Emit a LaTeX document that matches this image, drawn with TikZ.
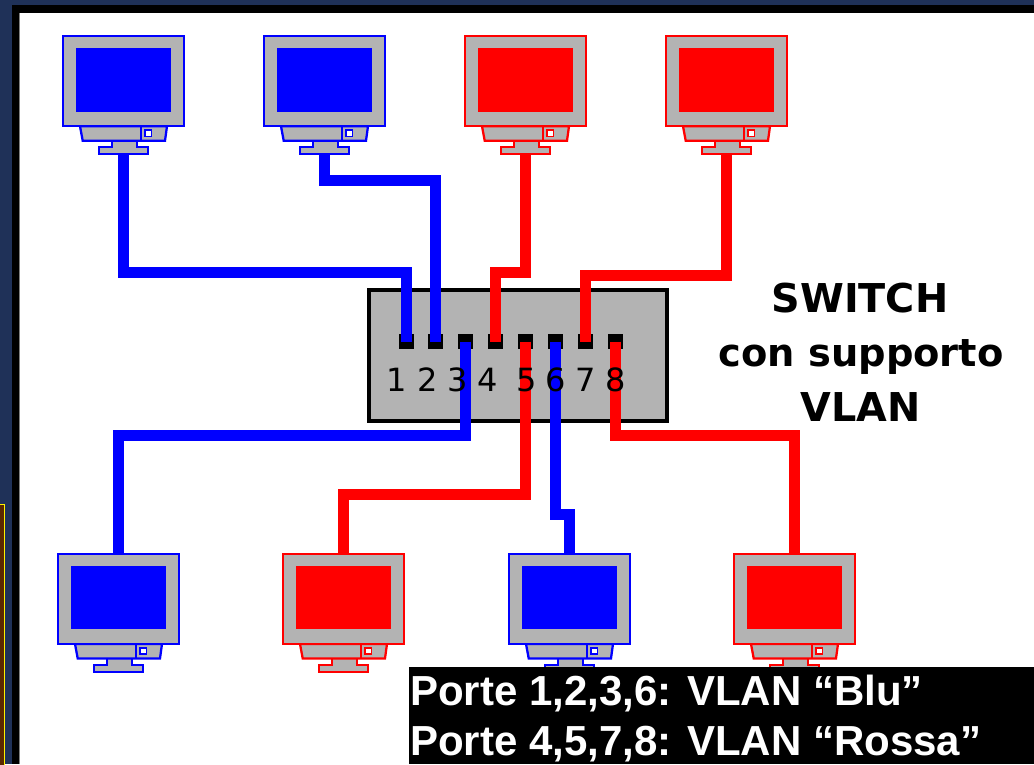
\documentclass[tikz,border=0pt]{standalone}
\usepackage{fontspec}
\setmainfont{DejaVu Sans}
\newfontfamily\barfont{Liberation Sans}[BoldFont={Liberation Sans Bold}]
\usetikzlibrary{calc}
\definecolor{navybg}{HTML}{1F3158}
\definecolor{brownbox}{HTML}{5A2800}
\definecolor{casegray}{HTML}{B3B3B3}
\tikzset{
  monpart/.style={draw=#1,fill=casegray,line width=1.7pt,line join=miter},
  wire/.style={draw=#1,line width=8.25pt,line join=miter,line cap=butt},
  porthole/.style={fill=black,draw=none,inner sep=0pt,minimum width=11.25pt,minimum height=11pt},
  portnum/.style={font=\fontsize{24}{24}\selectfont,text=black,inner sep=0pt,anchor=base},
  swtext/.style={font=\fontsize{#1}{#1}\selectfont\bfseries,text=black,inner sep=0pt,anchor=base},
  bartext/.style={font=\barfont\fontsize{31.5}{31.5}\selectfont\bfseries,text=white,inner sep=0pt,anchor=base west},
  plain/.style={inner sep=0pt,outer sep=0pt,minimum width=0pt,minimum height=0pt}
}
% name, x, y, colour
\newcommand{\monitorunit}[4]{%
  \begin{scope}[shift={(#2,#3)}]
    \draw[monpart=#4] (48.4,104.7) rectangle (73.4,112);
    \node[monpart=#4,plain,anchor=north west,minimum width=36.75pt,minimum height=5.25pt] (#1foot) at (35.7,111.3) {};
    \fill[casegray] (49.6,104) rectangle (72.2,112.6);
    \draw[monpart=#4] (16.7,90.3) -- (19.4,104.7) -- (101.7,104.7) -- (103.7,90.3) -- cycle;
    \draw[#4,line width=1.7pt] (77.4,90.3) -- (77.4,104.7);
    \draw[#4,line width=1.3pt,fill=white] (81.8,94.1) rectangle (88.2,100.5);
    \node[monpart=#4,plain,anchor=north west,minimum width=90.5pt,minimum height=67.7pt] (#1) at (0,0) {};
    \fill[#4] (12.7,12.3) rectangle (107.7,75.7);
  \end{scope}%
}
\begin{document}
\begin{tikzpicture}[x=0.75pt,y=-0.75pt]
\useasboundingbox (0,0) rectangle (1034,764);
% desktop and window frame
\fill[navybg] (0,0) rectangle (1034,764);
\fill[black] (12,5) rectangle (1034,764);
\fill[gray] (19,13) rectangle (20,764);
\fill[white] (20,13) rectangle (1034,764);
\draw[yellow,line width=0.75pt,fill=brownbox] (-3,504) rectangle (4.5,770);
% switch
\node[draw=black,fill=casegray,line width=3.2pt,inner sep=0pt,outer sep=0pt,anchor=north west,minimum width=223.5pt,minimum height=98pt] (sw) at (369,290) {};
\foreach \n/\x in {1/406,2/435.7,3/465,4/495,5/525,6/555,7/585,8/615}
  \node[porthole] (p\n) at (\x,341.7) {};
% monitors
\monitorunit{ma}{63.3}{36}{blue}
\monitorunit{mb}{264.3}{36}{blue}
\monitorunit{mc}{465.3}{36}{red}
\monitorunit{md}{666.3}{36}{red}
\monitorunit{me}{58.3}{553.7}{blue}
\monitorunit{mf}{283.3}{553.7}{red}
\monitorunit{mg}{509.3}{553.7}{blue}
\monitorunit{mh}{734.3}{553.7}{red}
% bend levels
\coordinate (ya) at (0,272);
\coordinate (yb) at (0,180.5);
\coordinate (yc) at (0,272.5);
\coordinate (yd) at (0,275);
\coordinate (ye) at (0,435);
\coordinate (yf) at (0,494);
\coordinate (yg) at (0,514);
\coordinate (yh) at (0,435);
% connectors
\draw[wire=blue] (mafoot.south) -- (mafoot.south |- ya) -| (p1.center);
\draw[wire=blue] (mbfoot.south) -- (mbfoot.south |- yb) -| (p2.center);
\draw[wire=red] (mcfoot.south) -- (mcfoot.south |- yc) -| (p4.center);
\draw[wire=red] (mdfoot.south) -- (mdfoot.south |- yd) -| (p7.center);
\draw[wire=blue] (p3.center) -- (p3.center |- ye) -| (me.north);
\draw[wire=red] (p5.center) -- (p5.center |- yf) -| (mf.north);
\draw[wire=blue] (p6.center) -- (p6.center |- yg) -| (mg.north);
\draw[wire=red] (p8.center) -- (p8.center |- yh) -| (mh.north);
% port numbers
\foreach \n/\x in {1/397,2/427.7,3/458,4/488,5/526.5,6/556,7/586,8/616}
  \node[portnum] (n\n) at (\x,391) {\n};
% switch caption
\node[swtext=29.8] (t1) at (860,312) {SWITCH};
\node[swtext=28.8] (t2) at (861,366) {con supporto};
\node[swtext=29.8] (t3) at (860.5,421) {VLAN};
% legend bar
\fill[black] (409,667) rectangle (1034,764);
\node[bartext] (l1) at (410,705) {Porte 1,2,3,6: VLAN “Blu”};
\node[bartext] (l2) at (410,755) {Porte 4,5,7,8: VLAN “Rossa”};
\end{tikzpicture}
\end{document}
